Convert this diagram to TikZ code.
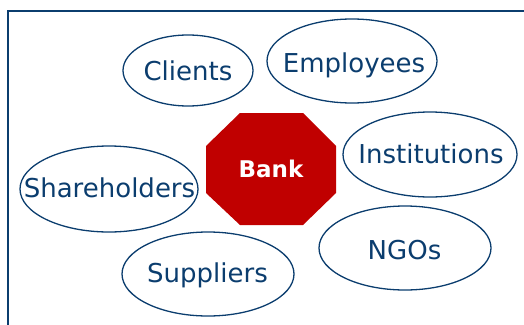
\documentclass[tikz,border=0pt]{standalone}
\usepackage{fontspec}
\setmainfont{DejaVu Sans}
\usetikzlibrary{shapes.geometric}
\definecolor{navy}{HTML}{0B3D6E}
\definecolor{stopred}{HTML}{C00000}
\tikzset{
  blob/.style={draw=navy, line width=1.3pt, ellipse, inner sep=0pt},
  lbl/.style={anchor=base, inner sep=0pt, text=navy, font=\fontsize{26}{30}\selectfont},
  banklbl/.style={anchor=base, inner sep=0pt, text=white, font=\fontsize{23}{27}\selectfont\bfseries},
}
\begin{document}
\begin{tikzpicture}[x=1pt, y=-1pt]
  \path[use as bounding box] (0,0) rectangle (524,324);
  \clip (0,0) rectangle (524,324);
  % open frame: left and top edges only
  \coordinate (fb) at (8,330);
  \coordinate (fc) at (8,11);
  \coordinate (fr) at (530,11);
  \draw[navy, line width=2.7pt] (fb) -- (fc) -- (fr);

  % central octagon
  \coordinate (o1) at (240,113);
  \coordinate (o2) at (303,113);
  \coordinate (o3) at (336,146);
  \coordinate (o4) at (336,193);
  \coordinate (o5) at (303,225);
  \coordinate (o6) at (240,225);
  \coordinate (o7) at (206,193);
  \coordinate (o8) at (206,146);
  \fill[stopred] (o1) -- (o2) -- (o3) -- (o4) -- (o5) -- (o6) -- (o7) -- (o8) -- cycle;
  \node[banklbl] (bank) at (271,177) {Bank};

  % stakeholder ellipses
  \node[blob, minimum width=130pt, minimum height=71pt] (clients) at (188,70.5) {};
  \node[lbl] (clients-t) at (188,80) {Clients};

  \node[blob, minimum width=170pt, minimum height=84pt] (employees) at (352,61) {};
  \node[lbl] (employees-t) at (354,72) {Employees};

  \node[blob, minimum width=174pt, minimum height=85pt] (institutions) at (430,154.5) {};
  \node[lbl] (institutions-t) at (431,163) {Institutions};

  \node[blob, minimum width=178pt, minimum height=86pt] (shareholders) at (109,189) {};
  \node[lbl] (shareholders-t) at (109.5,197) {Shareholders};

  \node[blob, minimum width=172pt, minimum height=84pt] (suppliers) at (208,274) {};
  \node[lbl] (suppliers-t) at (207.5,282) {Suppliers};

  \node[blob, minimum width=172pt, minimum height=84pt] (ngos) at (405,248) {};
  \node[lbl] (ngos-t) at (404.5,259) {NGOs};
\end{tikzpicture}
\end{document}
